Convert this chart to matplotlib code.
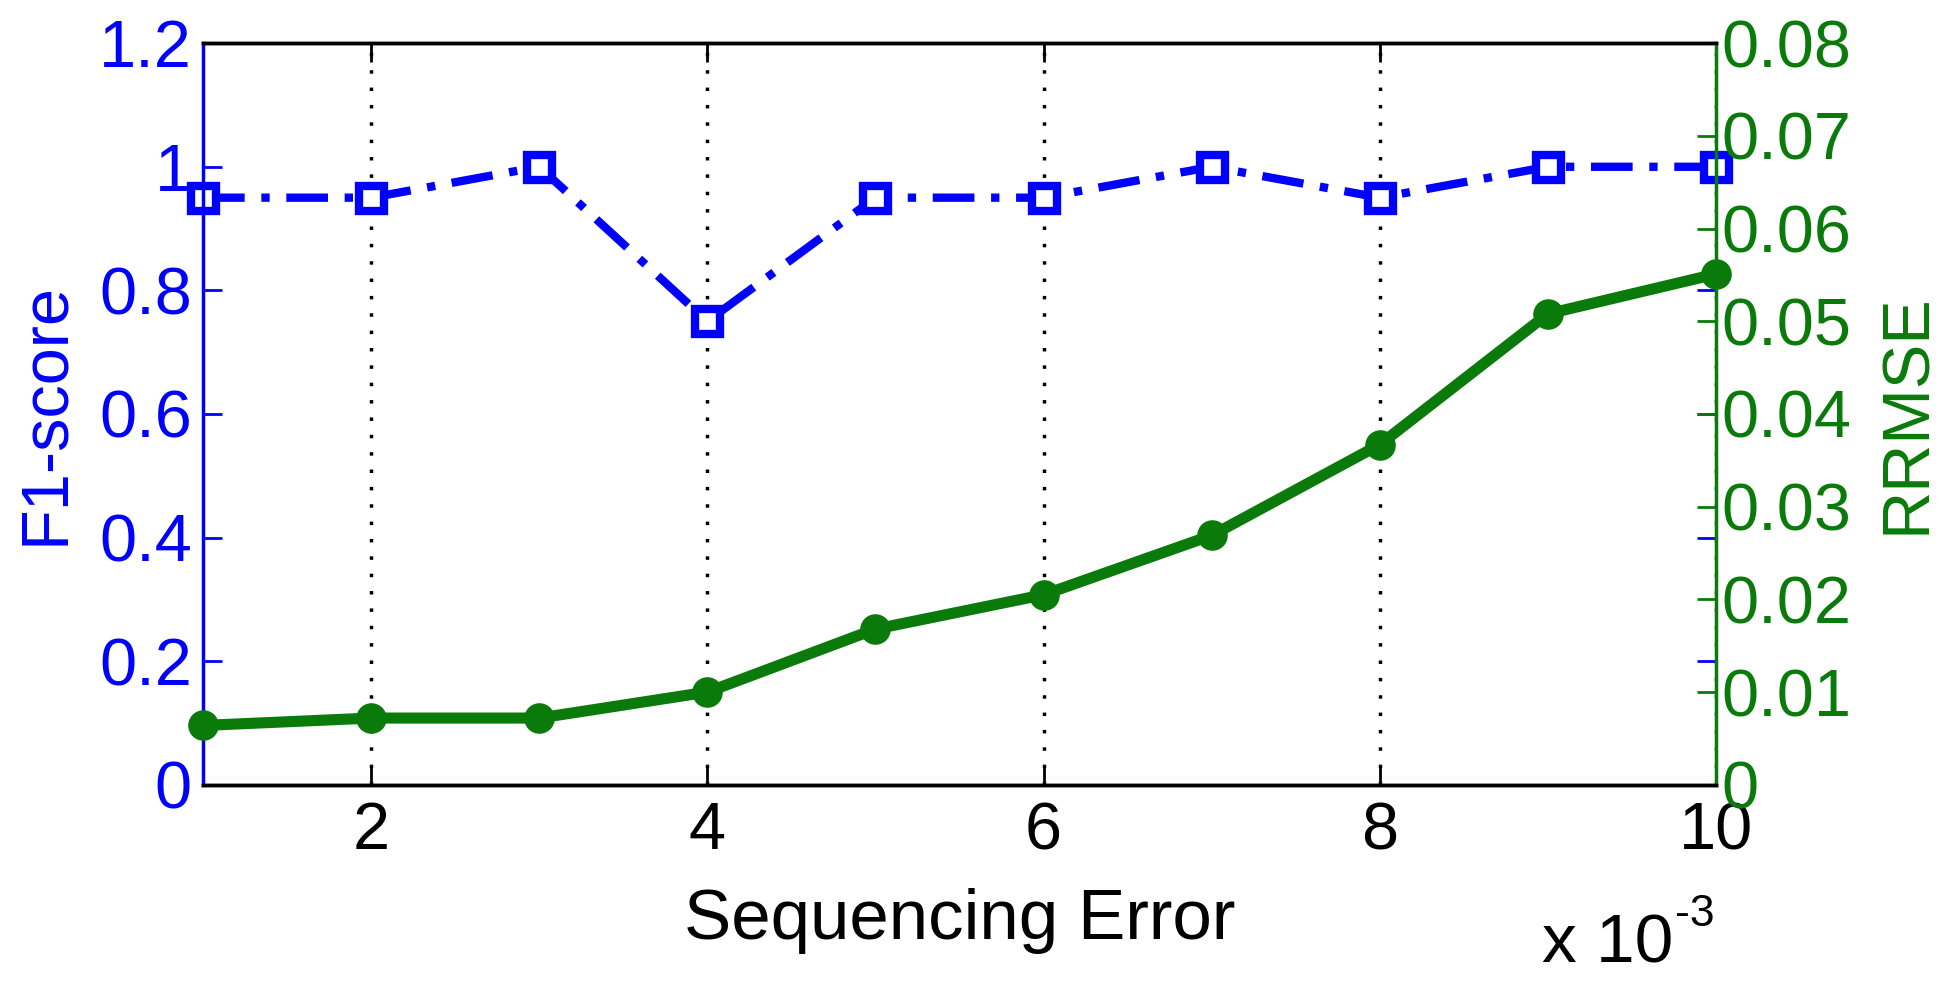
import numpy as np
import matplotlib.pyplot as plt

plt.rcParams['font.family'] = ['Liberation Sans', 'DejaVu Sans']

seq_error = [1, 2, 3, 4, 5, 6, 7, 8, 9, 10]
f1_score = [0.95, 0.95, 1.0, 0.75, 0.95, 0.95, 1.0, 0.95, 1.0, 1.0]
rrmse = [0.0064, 0.0072, 0.0072, 0.0100, 0.0168, 0.0205, 0.0269, 0.0367, 0.0508, 0.0551]

blue = '#0000ff'
green = '#0a7a0a'
fs = 48

fig = plt.figure(figsize=(19.5, 9.81), dpi=100)
ax = fig.add_axes([0.1041, 0.2, 0.7759, 0.756])
ax2 = ax.twinx()

ax.plot(seq_error, f1_score, color=blue, linestyle=(0, (5, 2, 1, 2)), linewidth=6,
        marker='s', markersize=18, markerfacecolor='white',
        markeredgecolor=blue, markeredgewidth=6, zorder=3, clip_on=False)
ax2.plot(seq_error, rrmse, color=green, linestyle='-', linewidth=8,
         marker='o', markersize=21, markerfacecolor=green,
         markeredgecolor=green, zorder=3, clip_on=False)

ax.set_xlim(1, 10)
ax.set_ylim(0, 1.2)
ax2.set_ylim(0, 0.08)
ax.set_xticks([2, 4, 6, 8, 10])
ax.set_yticks(np.arange(0, 1.21, 0.2))
ax.set_yticklabels(['0', '0.2', '0.4', '0.6', '0.8', '1', '1.2'])
ax2.set_yticks(np.arange(0, 0.081, 0.01))
ax2.set_yticklabels(['0', '0.01', '0.02', '0.03', '0.04', '0.05', '0.06', '0.07', '0.08'])

ax.xaxis.grid(True, linestyle=(0, (1, 4)), color='black', linewidth=2.5)

ax.tick_params(axis='x', direction='in', length=14, width=2, top=True,
               labelsize=fs, colors='black', pad=12)
ax.tick_params(axis='y', direction='in', length=14, width=2, right=True,
               labelsize=fs, colors=blue, pad=8)
ax2.tick_params(axis='y', direction='in', length=14, width=2,
                labelsize=fs, colors=green, pad=4)

for s in ['top', 'bottom']:
    ax.spines[s].set_color('black')
    ax.spines[s].set_linewidth(2.5)
ax2.spines['left'].set_color(blue)
ax2.spines['left'].set_linewidth(2.5)
ax2.spines['right'].set_color(green)
ax2.spines['right'].set_linewidth(2.5)
ax2.spines['top'].set_linewidth(2.5)
ax2.spines['bottom'].set_linewidth(2.5)

ax.set_xlabel('Sequencing Error', fontsize=51, color='black', labelpad=18)
ax.set_ylabel('F1-score', fontsize=fs, color=blue, labelpad=16)
ax2.set_ylabel('RRMSE', fontsize=fs, color=green, labelpad=18)

fig.text(0.791, 0.019, 'x 10', fontsize=50, color='black', va='baseline')
fig.text(0.859, 0.056, '-3', fontsize=32, color='black', va='baseline')

fig.savefig('out.png', dpi=100)
